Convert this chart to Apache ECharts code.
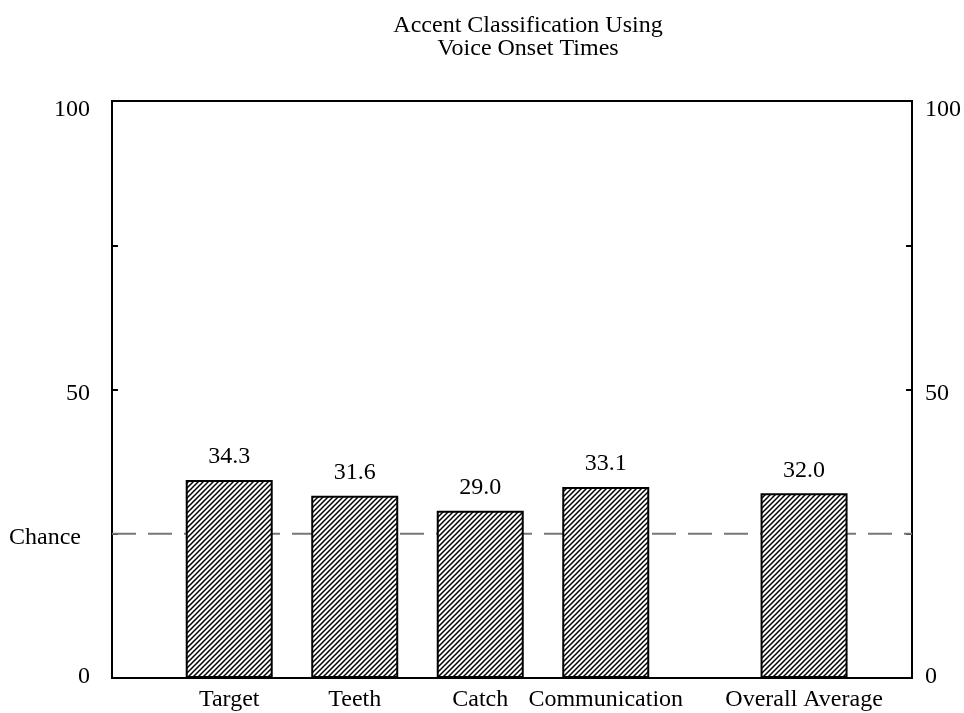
<!DOCTYPE html>
<html>
<head>
<meta charset="utf-8">
<script src="https://cdn.jsdelivr.net/npm/echarts@6/dist/echarts.min.js"></script>
<style>
html,body{margin:0;padding:0;background:#fff;}
#chart{width:964px;height:713px;}
</style>
</head>
<body>
<div id="chart"></div>
<script>
// ---- data ----
const categories = ['Target', 'Teeth', 'Catch', 'Communication', 'Overall Average'];
const xSlots = [1, 2, 3, 4, 5.58];
const accuracy = [34.3, 31.6, 29.0, 33.1, 32.0];
const chanceLevel = 25;
const yTicks = [0, 25, 50, 75, 100];
const leftTickLabels = ['0', 'Chance', '50', '', '100'];
const rightTickLabels = ['0', '', '50', '', '100'];
const titleText = 'Accent Classification Using\nVoice Onset Times';

// ---- style ----
const FONT = 'Liberation Serif';
const FS = 24;
const X_MIN = 0.066, X_MAX = 6.44;
const labelStyleKey = ['z', 'c', 'f', '', 'h'];
const rich = {
  z: {fontFamily: FONT, fontSize: FS, color: '#000', padding: [0, 0, 2, 0]},
  c: {fontFamily: FONT, fontSize: FS, color: '#000', padding: [8, 9, 0, 0]},
  f: {fontFamily: FONT, fontSize: FS, color: '#000', padding: [8, 0, 0, 0]},
  h: {fontFamily: FONT, fontSize: FS, color: '#000', padding: [18, 0, 0, 0]}
};

function hatch() {
  const c = document.createElement('canvas');
  c.width = 5; c.height = 5;
  const g = c.getContext('2d');
  g.fillStyle = '#fff';
  g.fillRect(0, 0, 5, 5);
  g.strokeStyle = '#000';
  g.lineWidth = 1.5;
  g.beginPath();
  g.moveTo(-1, 6); g.lineTo(6, -1);
  g.moveTo(-1, 1); g.lineTo(1, -1);
  g.moveTo(4, 6); g.lineTo(6, 4);
  g.stroke();
  return c;
}

const chart = echarts.init(document.getElementById('chart'), null, {renderer: 'canvas'});
const barData = xSlots.map((x, i) => [x, accuracy[i]]);

function yLabel(list) {
  return v => {
    const i = yTicks.indexOf(v);
    if (i < 0 || !list[i]) return '';
    return '{' + labelStyleKey[i] + '|' + list[i] + '}';
  };
}

chart.setOption({
  animation: false,
  backgroundColor: '#fff',
  title: {
    text: titleText,
    left: 523,
    top: 9,
    textAlign: 'center',
    textStyle: {fontFamily: FONT, fontSize: FS, fontWeight: 'normal', color: '#000', lineHeight: 23}
  },
  grid: {left: 112, right: 50, top: 101, bottom: 35, show: true, borderColor: '#000', borderWidth: 2, containLabel: false},
  xAxis: {
    type: 'value',
    min: X_MIN,
    max: X_MAX,
    axisLine: {show: false},
    axisTick: {show: false},
    splitLine: {show: false},
    axisLabel: {
      customValues: xSlots,
      formatter: v => { const i = xSlots.indexOf(v); return i >= 0 ? categories[i] : ''; },
      fontFamily: FONT, fontSize: FS, color: '#000', margin: 10
    }
  },
  yAxis: [
    {
      type: 'value', position: 'left', min: 0, max: 100, interval: 25,
      axisLine: {show: false},
      axisTick: {show: true, inside: true, length: 6, lineStyle: {color: '#000', width: 2}},
      splitLine: {show: false},
      axisLabel: {formatter: yLabel(leftTickLabels), rich: rich, fontFamily: FONT, fontSize: FS, color: '#000', margin: 22}
    },
    {
      type: 'value', position: 'right', min: 0, max: 100, interval: 25,
      axisLine: {show: false},
      axisTick: {show: true, inside: true, length: 6, lineStyle: {color: '#000', width: 2}},
      splitLine: {show: false},
      axisLabel: {formatter: yLabel(rightTickLabels), rich: rich, fontFamily: FONT, fontSize: FS, color: '#000', margin: 13}
    }
  ],
  series: [
    {
      type: 'line',
      z: 1,
      symbol: 'none',
      silent: true,
      data: [[X_MIN, chanceLevel], [X_MAX, chanceLevel]],
      lineStyle: {color: '#777', width: 2, type: [24, 12]}
    },
    {
      type: 'bar',
      z: 2,
      barWidth: 87,
      data: barData,
      itemStyle: {color: {image: hatch(), repeat: 'repeat'}, borderColor: '#000', borderWidth: 2},
      label: {
        show: true, position: 'top', distance: 11,
        formatter: p => p.value[1].toFixed(1),
        fontFamily: FONT, fontSize: FS, color: '#000'
      }
    }
  ]
});
</script>
</body>
</html>
